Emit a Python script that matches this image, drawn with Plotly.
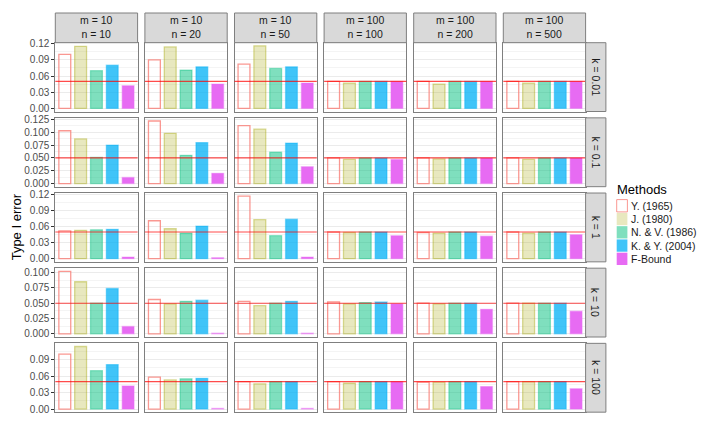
import plotly.graph_objects as go

# data
methods = ["Y. (1965)", "J. (1980)", "N. & V. (1986)", "K. & Y. (2004)", "F-Bound"]
m_vals = [10, 10, 10, 100, 100, 100]
n_vals = [10, 20, 50, 100, 200, 500]
k_vals = ["0.01", "0.1", "1", "10", "100"]

err_k001 = [[0.100, 0.115, 0.070, 0.080, 0.042],
            [0.090, 0.114, 0.071, 0.077, 0.045],
            [0.082, 0.116, 0.074, 0.077, 0.047],
            [0.050, 0.047, 0.050, 0.050, 0.050],
            [0.050, 0.045, 0.050, 0.050, 0.050],
            [0.050, 0.047, 0.050, 0.050, 0.050]]
err_k01 = [[0.103, 0.087, 0.051, 0.075, 0.012],
           [0.122, 0.098, 0.055, 0.080, 0.020],
           [0.113, 0.106, 0.061, 0.079, 0.033],
           [0.050, 0.047, 0.050, 0.050, 0.047],
           [0.050, 0.048, 0.050, 0.050, 0.050],
           [0.050, 0.047, 0.050, 0.050, 0.050]]
err_k1 = [[0.052, 0.053, 0.054, 0.055, 0.003],
          [0.071, 0.056, 0.048, 0.061, 0.002],
          [0.117, 0.073, 0.043, 0.074, 0.003],
          [0.050, 0.049, 0.050, 0.050, 0.043],
          [0.049, 0.048, 0.050, 0.050, 0.042],
          [0.050, 0.048, 0.050, 0.050, 0.045]]
err_k10 = [[0.102, 0.085, 0.050, 0.074, 0.012],
           [0.056, 0.049, 0.053, 0.055, 0.001],
           [0.053, 0.046, 0.050, 0.053, 0.001],
           [0.052, 0.049, 0.051, 0.052, 0.049],
           [0.050, 0.049, 0.050, 0.050, 0.040],
           [0.050, 0.050, 0.050, 0.050, 0.037]]
err_k100 = [[0.100, 0.114, 0.070, 0.081, 0.042],
            [0.058, 0.053, 0.055, 0.056, 0.001],
            [0.050, 0.046, 0.050, 0.050, 0.001],
            [0.050, 0.047, 0.050, 0.050, 0.050],
            [0.049, 0.049, 0.050, 0.050, 0.041],
            [0.050, 0.050, 0.050, 0.050, 0.037]]
errors = [err_k001, err_k01, err_k1, err_k10, err_k100]

alpha_level = 0.05
tick_steps = [0.03, 0.025, 0.03, 0.025, 0.03]
tick_fmts = [".2f", ".3f", ".2f", ".3f", ".2f"]

# styles
COLORS = ["#F8766D", "#A3A500", "#00BF7D", "#00B0F6", "#E76BF3"]
ALPHAS = [0.0, 0.25, 0.5, 0.75, 1.0]
EDGE_ALPHAS = [0.75, 0.4, 0.4, 0.4, 0.4]
FONT = "Liberation Sans, Arial, sans-serif"
BORDER = "#7F7F7F"
# the page body has an 8px margin, so the figure is a bit smaller than the window
OFF = 8
W, H = 706 - OFF, 424 - OFF


def rgba(hex_col, a):
    h = hex_col.lstrip("#")
    r, g, b = int(h[0:2], 16), int(h[2:4], 16), int(h[4:6], 16)
    return f"rgba({r},{g},{b},{a})"


fills = [rgba(c, a) for c, a in zip(COLORS, ALPHAS)]
edges = [rgba(c, a) for c, a in zip(COLORS, EDGE_ALPHAS)]

# panel geometry in window pixels
col_left = [55.3 + 89.6 * c for c in range(6)]
col_w = 82.3
row_top = [38.2 + 76.45 * r for r in range(5)]
row_h = 70.0
strip_top = 8.0
strip_right_w = 20.3


def px(x):
    return (x - OFF) / W


def py(y):
    return 1 - (y - OFF) / H


fig = go.Figure()
shapes = []
annotations = []

for r, k in enumerate(k_vals):
    row_max = max(max(p) for p in errors[r])
    yr = [-0.05 * row_max, 1.05 * row_max]
    for c in range(6):
        i = r * 6 + c + 1
        xa = "x" if i == 1 else f"x{i}"
        ya = "y" if i == 1 else f"y{i}"
        fig.add_trace(go.Bar(
            x=methods, y=errors[r][c], xaxis=xa, yaxis=ya,
            width=0.75,
            marker=dict(color=fills, line=dict(color=edges, width=1.3)),
            showlegend=False, hoverinfo="x+y",
        ))
        suffix = "" if i == 1 else str(i)
        fig.layout["xaxis" + suffix] = dict(
            domain=[px(col_left[c]), px(col_left[c] + col_w)],
            anchor=ya, type="category", range=[-0.6, 4.6],
            showticklabels=False, ticks="", showgrid=False, zeroline=False,
            showline=True, mirror=True, linecolor=BORDER, linewidth=1,
        )
        fig.layout["yaxis" + suffix] = dict(
            domain=[py(row_top[r] + row_h), py(row_top[r])],
            anchor=xa, range=yr, dtick=tick_steps[r], tick0=0,
            tickformat=tick_fmts[r],
            showticklabels=(c == 0), ticks="outside" if c == 0 else "",
            ticklen=3, tickcolor="#333333", tickwidth=1,
            tickfont=dict(size=10, color="#4D4D4D", family=FONT),
            showgrid=True, gridcolor="#EBEBEB", gridwidth=1,
            minor=dict(dtick=tick_steps[r] / 2, tick0=0, showgrid=True,
                       gridcolor="#F4F4F4", gridwidth=0.6),
            zeroline=False,
            showline=True, mirror=True, linecolor=BORDER, linewidth=1,
        )
        shapes.append(dict(
            type="line", xref=f"{xa} domain", yref=ya,
            x0=0, x1=1, y0=alpha_level, y1=alpha_level,
            line=dict(color="rgba(255,0,0,0.7)", width=1.1),
        ))

    # right strip
    shapes.append(dict(
        type="rect", xref="paper", yref="paper",
        x0=px(col_left[5] + col_w), x1=px(col_left[5] + col_w + strip_right_w),
        y0=py(row_top[r] + row_h), y1=py(row_top[r]),
        fillcolor="#D9D9D9", line=dict(color=BORDER, width=1),
    ))
    annotations.append(dict(
        xref="paper", yref="paper",
        x=px(col_left[5] + col_w + strip_right_w / 2),
        y=py(row_top[r] + row_h / 2), xanchor="center", yanchor="middle",
        text=f"k = {k}", showarrow=False, textangle=90,
        font=dict(size=10.5, color="#1A1A1A", family=FONT),
    ))

# top strips
for c in range(6):
    shapes.append(dict(
        type="rect", xref="paper", yref="paper",
        x0=px(col_left[c]), x1=px(col_left[c] + col_w),
        y0=py(row_top[0]), y1=py(strip_top),
        fillcolor="#D9D9D9", line=dict(color=BORDER, width=1),
    ))
    annotations.append(dict(
        xref="paper", yref="paper",
        x=px(col_left[c] + col_w / 2), y=py(22.5),
        xanchor="center", yanchor="middle",
        text=f"m = {m_vals[c]}<br>n = {n_vals[c]}", showarrow=False,
        font=dict(size=10.5, color="#1A1A1A", family=FONT),
    ))

# y axis title
annotations.append(dict(
    xref="paper", yref="paper", x=px(16), y=py(226),
    xanchor="center", yanchor="middle",
    text="Type I error", showarrow=False, textangle=-90,
    font=dict(size=13, color="#000000", family=FONT),
))

# legend drawn by hand to match the compact ggplot key
leg_x, leg_y0, key_w, key_h = 616.7, 197.3, 10.7, 13.5
annotations.append(dict(
    xref="paper", yref="paper", x=px(615), y=py(188),
    xanchor="left", yanchor="middle",
    text="Methods", showarrow=False,
    font=dict(size=13, color="#000000", family=FONT),
))
for j, name in enumerate(methods):
    y0 = leg_y0 + j * key_h
    shapes.append(dict(
        type="rect", xref="paper", yref="paper",
        x0=px(leg_x), x1=px(leg_x + key_w),
        y0=py(y0 + key_h - 0.5), y1=py(y0 + 0.5),
        fillcolor=fills[j] if ALPHAS[j] > 0 else "white",
        line=dict(color=edges[j], width=1 if j == 0 else 0),
    ))
    annotations.append(dict(
        xref="paper", yref="paper", x=px(leg_x + key_w + 1.5),
        y=py(y0 + key_h / 2), xanchor="left", yanchor="middle",
        text=name, showarrow=False,
        font=dict(size=10.5, color="#1A1A1A", family=FONT),
    ))

fig.update_layout(
    width=W, height=H,
    margin=dict(l=0, r=0, t=0, b=0),
    paper_bgcolor="white", plot_bgcolor="white",
    barmode="overlay",
    shapes=shapes, annotations=annotations,
    font=dict(family=FONT),
)

fig.write_html("out.html")
